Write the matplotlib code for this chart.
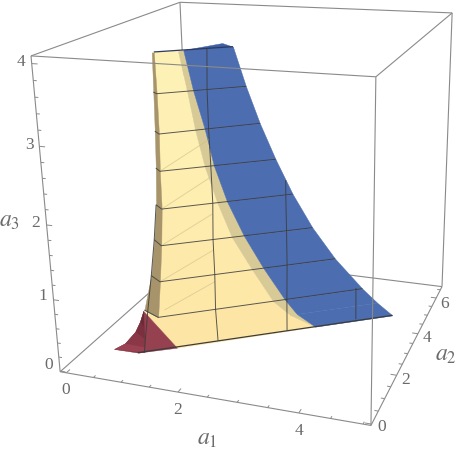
import numpy as np
import matplotlib
matplotlib.use('Agg')
import matplotlib.pyplot as plt
from mpl_toolkits.mplot3d.art3d import Poly3DCollection, Line3DCollection

plt.rcParams['mathtext.fontset'] = 'stix'

# plot range of the box
a1_lim = (-0.115, 5.12)
a2_lim = (-0.05, 6.7)
a3_lim = (-0.01, 4.09)

# where the eight box corners sit in the picture, this fixes the camera
box_index = [(0, 0, 0), (1, 0, 0), (1, 1, 0), (0, 1, 0), (0, 0, 1), (1, 0, 1), (1, 1, 1), (0, 1, 1)]
box_pixel = [(60, 371), (371, 426), (442, 286), (191.6, 256), (31, 56), (376, 77), (452, 13), (180, 2)]

# surface, one value per mesh level
levels = [4, 3.5, 3, 2.5, 2, 1.5, 1, 0.5, 0.25, 0]
edge_a1 = [1.27, 1.32, 1.34, 1.29, 1.29, 1.25, 1.20, 1.15, 0.98, 0.81]
edge_a2 = [1.57, 1.47, 1.42, 1.50, 1.49, 1.48, 1.45, 1.40, 1.31, 1.21]
right_a1 = [2.30, 2.48, 2.64, 2.84, 3.07, 3.35, 3.67, 4.08, 4.30, 4.53]
right_a2 = [2.48, 2.55, 2.76, 2.97, 3.19, 3.44, 3.79, 4.18, 4.42, 4.71]
yellow_end_a1 = [1.58, 1.71, 1.80, 1.88, 2.03, 2.21, 2.47, 2.76, 2.99, 3.35]
yellow_end_a2 = [1.84, 1.83, 1.89, 2.06, 2.20, 2.38, 2.66, 2.93, 3.20, 3.60]
blue_start_a1 = [1.65, 1.79, 1.92, 2.00, 2.16, 2.38, 2.63, 2.93, 3.09, 3.35]
blue_start_a2 = [1.90, 1.90, 2.02, 2.18, 2.33, 2.53, 2.81, 3.09, 3.29, 3.60]

side_levels = [4, 3.5, 3, 2.5, 2, 1.5, 1, 0.5]
side_a1 = [1.25, 1.22, 1.20, 1.15, 1.11, 1.02, 0.95, 0.80]
side_a2 = [1.53, 1.58, 1.60, 1.68, 1.70, 1.75, 1.69, 1.64]

# top cap
cap_a1 = [1.65, 2.02, 2.30]
cap_a2 = [1.90, 2.78, 2.48]

# red corner
red_levels = [0.5, 0.3, 0.15, 0.05, 0]
red_left_a1 = [0.80, 0.68, 0.59, 0.50, 0.36]
red_left_a2 = [1.59, 1.69, 1.66, 1.37, 1.20]
red_inner_a1 = [0.80, 0.82, 0.85, 0.88, 0.90]
red_inner_a2 = [1.59, 1.50, 1.42, 1.35, 1.28]
red_foot_a1 = [0.81, 1.36]
red_foot_a2 = [1.21, 1.68]

# vertical mesh lines
mesh1_a3 = [0, 0.5, 1, 1.5, 2]
mesh1_a1 = [0.90, 0.89, 0.95, 1.02, 1.11]
mesh1_a2 = [1.28, 1.57, 1.69, 1.75, 1.70]
mesh2_a3 = [4, 3.5, 3, 2.5, 2, 1.5, 1, 0.5, 0]
mesh2_a1 = [1.96, 1.97, 1.97, 1.96, 1.97, 1.95, 1.95, 1.94, 1.93]
mesh2_a2 = [2.17, 2.07, 2.07, 2.14, 2.14, 2.14, 2.16, 2.16, 2.26]
mesh3_a3 = [2.2, 2, 1.5, 1, 0.5, 0]
mesh3_a1 = [2.97, 2.97, 2.98, 2.97, 2.96, 2.93]
mesh3_a2 = [3.12, 3.11, 3.09, 3.13, 3.12, 3.21]
mesh4_a3 = [0.6, 0]
mesh4_a1 = [4.04, 3.95]
mesh4_a2 = [3.82, 4.25]

# faint triangulation lines on the yellow part, start and end in (a1, a2, a3)
faint_start = [(1.29, 1.50, 2.5), (1.29, 1.49, 2.0), (1.25, 1.48, 1.5), (1.20, 1.45, 1.0), (1.25, 1.46, 0.6)]
faint_end = [(1.95, 2.14, 2.85), (1.95, 2.14, 2.35), (1.95, 2.14, 1.85), (1.95, 2.16, 1.35), (1.95, 2.16, 0.9)]

a1_ticks = [0, 0.5, 1, 1.5, 2, 2.5, 3, 3.5, 4, 4.5, 5]
a2_ticks = [0, 0.5, 1, 1.5, 2, 2.5, 3, 3.5, 4, 4.5, 5, 5.5, 6, 6.5]
a3_ticks = [0, 0.2, 0.4, 0.6, 0.8, 1, 1.2, 1.4, 1.6, 1.8, 2, 2.2, 2.4, 2.6, 2.8, 3, 3.2, 3.4, 3.6, 3.8, 4]

a1_labels = ['0', '2', '4']
a2_labels = ['0', '2', '4', '6']
a3_labels = ['0', '1', '2', '3', '4']

W, H = 459, 454
GRAY = '#8a8a8a'
MESH = '#3c3c3c'
TEXT = '#6a6a6a'

# camera from the corners
limits = np.array([a1_lim, a2_lim, a3_lim])
rows = []
for idx, (u, v) in zip(box_index, box_pixel):
    X = np.r_[limits[0, idx[0]], limits[1, idx[1]], limits[2, idx[2]], 1.0]
    rows.append(np.r_[X, 0 * X, -u * X])
    rows.append(np.r_[0 * X, X, -v * X])
camera = np.linalg.svd(np.array(rows))[2][-1].reshape(3, 4)
camera = camera / camera[2, 3]

fig = plt.figure(figsize=(W / 100, H / 100), dpi=100, facecolor='white')
ax = fig.add_axes([0, 0, 1, 1], projection='3d', computed_zorder=False)
ax.set_axis_off()


def get_proj():
    # picture pixels -> the 2d view coordinates of the axes
    x0, y0 = ax.transData.inverted().transform((0, H))
    x1, y1 = ax.transData.inverted().transform((W, 0))
    to_view = np.array([[(x1 - x0) / W, 0, x0], [0, (y1 - y0) / H, y0], [0, 0, 1]])
    p = to_view @ camera
    return np.array([p[0], p[1], [0, 0, 0, 1.0], p[2]])


ax.get_proj = get_proj


def poly(a1, a2, a3, color, z):
    verts = [list(zip(a1, a2, a3))]
    ax.add_collection3d(Poly3DCollection(verts, facecolor=color, edgecolor=color, linewidth=0.3, zorder=z))


def strip(i, a1_l, a2_l, a1_r, a2_r, lev, color, z):
    poly([a1_l[i], a1_r[i], a1_r[i + 1], a1_l[i + 1]],
         [a2_l[i], a2_r[i], a2_r[i + 1], a2_l[i + 1]],
         [lev[i], lev[i], lev[i + 1], lev[i + 1]], color, z)


def line(a1, a2, a3, color, lw, z, alpha=1.0):
    seg = Line3DCollection([list(zip(a1, a2, a3))], colors=color, linewidths=lw, zorder=z, alpha=alpha)
    ax.add_collection3d(seg, autolim=False)


def box_line(p, q, z):
    a = limits[[0, 1, 2], list(p)]
    b = limits[[0, 1, 2], list(q)]
    line([a[0], b[0]], [a[1], b[1]], [a[2], b[2]], GRAY, 0.8, z)


# back of the box
for p, q in [((0, 1, 0), (1, 1, 0)), ((0, 0, 0), (0, 1, 0)), ((0, 1, 0), (0, 1, 1)), ((0, 1, 1), (1, 1, 1)),
             ((0, 0, 1), (0, 1, 1)), ((1, 1, 0), (1, 1, 1)), ((1, 0, 1), (1, 1, 1))]:
    box_line(p, q, 1)

# surface
yellow = ['#FEF1B6', '#FEF0B4', '#FEEFB2', '#FEEEB0', '#FDECAE', '#FDEAAB', '#FDE8A8']
for i in range(7):
    strip(i, edge_a1, edge_a2, yellow_end_a1, yellow_end_a2, levels, yellow[i], 2)
poly([red_inner_a1[0], edge_a1[7], yellow_end_a1[7], yellow_end_a1[8], yellow_end_a1[9], red_foot_a1[1]],
     [red_inner_a2[0], edge_a2[7], yellow_end_a2[7], yellow_end_a2[8], yellow_end_a2[9], red_foot_a2[1]],
     [0.5, 0.5, 0.5, 0.25, 0, 0], '#FDE6A5', 2)
for i in range(9):
    strip(i, yellow_end_a1, yellow_end_a2, blue_start_a1, blue_start_a2, levels, '#D8CA96', 2)
    strip(i, blue_start_a1, blue_start_a2, right_a1, right_a2, levels, '#4C6DB0', 2)
for i in range(7):
    strip(i, side_a1, side_a2, edge_a1, edge_a2, side_levels, '#A8946A', 3)
poly(cap_a1, cap_a2, [4, 4, 4], '#3F5FA6', 3)
poly([side_a1[0], edge_a1[0], blue_start_a1[0]], [side_a2[0], edge_a2[0], blue_start_a2[0]],
     [4, 4, 4], '#FEF1B6', 3)

# red corner
reds = ['#6C2A38', '#7A303F', '#8A3848', '#9A4252']
poly([red_inner_a1[0], red_foot_a1[1], red_foot_a1[0]],
     [red_inner_a2[0], red_foot_a2[1], red_foot_a2[0]],
     [0.5, 0, 0], '#95414F', 3.5)
poly([red_inner_a1[0], red_inner_a1[4], red_foot_a1[0], red_left_a1[4], red_left_a1[3], red_left_a1[2], red_left_a1[1]],
     [red_inner_a2[0], red_inner_a2[4], red_foot_a2[0], red_left_a2[4], red_left_a2[3], red_left_a2[2], red_left_a2[1]],
     [0.5, 0, 0, 0, 0.05, 0.15, 0.3], '#7A303F', 3.8)
for i in range(4):
    strip(i, red_left_a1, red_left_a2, red_inner_a1, red_inner_a2, red_levels, reds[i], 4)

# faint lines
for p, q in zip(faint_start, faint_end):
    line([p[0], q[0]], [p[1], q[1]], [p[2], q[2]], '#CDBB85', 0.7, 5, alpha=0.55)

# mesh
for i in range(1, 8):
    line([side_a1[i], edge_a1[i], right_a1[i]], [side_a2[i], edge_a2[i], right_a2[i]], [levels[i]] * 3,
         MESH, 0.7, 6, alpha=0.85)
line([edge_a1[0], right_a1[0]], [edge_a2[0], right_a2[0]], [4, 4], '#2c3a60', 0.9, 6)
line([red_foot_a1[0], right_a1[9]], [red_foot_a2[0], right_a2[9]], [0, 0], MESH, 0.9, 6)
for a1, a2, a3 in [(mesh1_a1, mesh1_a2, mesh1_a3), (mesh2_a1, mesh2_a2, mesh2_a3),
                   (mesh3_a1, mesh3_a2, mesh3_a3), (mesh4_a1, mesh4_a2, mesh4_a3)]:
    line(a1, a2, a3, MESH, 0.7, 6, alpha=0.85)

# front of the box
for p, q in [((0, 0, 0), (1, 0, 0)), ((1, 0, 0), (1, 1, 0)), ((0, 0, 0), (0, 0, 1)), ((1, 0, 0), (1, 0, 1)),
             ((0, 0, 1), (1, 0, 1))]:
    box_line(p, q, 7)

# ticks
for t in a1_ticks:
    d = 0.15 if t % 2 == 0 else 0.09
    line([t, t], [a2_lim[0], a2_lim[0] + d], [a3_lim[0]] * 2, GRAY, 0.7, 7)
for t in a2_ticks:
    d = 0.1 if t % 2 == 0 else 0.06
    line([a1_lim[1], a1_lim[1] - d], [t, t], [a3_lim[0]] * 2, GRAY, 0.7, 7)
for t in a3_ticks:
    d = 0.1 if t == int(t) else 0.06
    line([a1_lim[0], a1_lim[0] + d], [a2_lim[0]] * 2, [t, t], GRAY, 0.7, 7)


# labels
def label(x, y, s, size=12.5, family='Liberation Serif'):
    fig.text(x / W, 1 - y / H, s, fontsize=size, family=family, color=TEXT, ha='center', va='center')


for s, xy in zip(a1_labels, [(66, 390), (178, 410), (299, 431)]):
    label(*xy, s)
for s, xy in zip(a2_labels, [(382, 427), (406, 380), (427, 338), (445, 304)]):
    label(*xy, s)
for s, xy in zip(a3_labels, [(49, 365), (43, 296), (36, 223), (29, 145), (21, 62)]):
    label(*xy, s)
label(207, 440, r'$a_1$', 17)
label(446, 356, r'$a_2$', 17)
label(9, 221, r'$a_3$', 17)

fig.savefig('out.png', dpi=100)
